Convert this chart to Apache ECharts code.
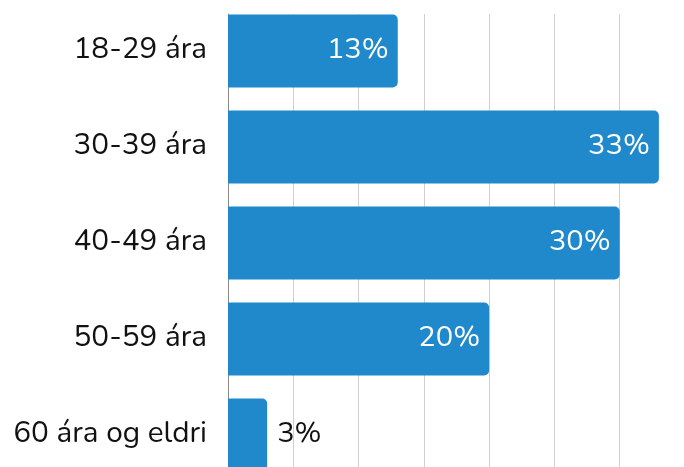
<!DOCTYPE html>
<html>
<head>
<meta charset="utf-8">
<script src="https://cdn.jsdelivr.net/npm/echarts@6/dist/echarts.min.js"></script>
<style>html,body{margin:0;padding:0;background:#fff}#c{width:684px;height:467px}</style>
</head>
<body>
<div id="c"></div>
<script>
const categories = ['18-29 ára', '30-39 ára', '40-49 ára', '50-59 ára', '60 ára og eldri'];
const values = [13, 33, 30, 20, 3];
const insideLabels = [true, true, true, true, false];

const font = 'Nunito, "DejaVu Sans", sans-serif';
const chart = echarts.init(document.getElementById('c'));
chart.setOption({
  animation: false,
  grid: [
    { left: 228, right: -1, top: 3, bottom: -16, outerBoundsMode: 'none' },
    { left: 228, right: -1, top: 14, bottom: -10, outerBoundsMode: 'none' }
  ],
  xAxis: [
    { gridIndex: 0, type: 'value', min: 0, max: 35, interval: 5, show: false },
    { gridIndex: 1, type: 'value', min: 0, max: 35, interval: 5,
      axisLine: { show: false }, axisTick: { show: false }, axisLabel: { show: false },
      splitLine: { show: true, lineStyle: { color: '#d0d0d0', width: 1 } } }
  ],
  yAxis: [
    { gridIndex: 0, type: 'category', data: categories, inverse: true,
      axisLine: { show: false }, axisTick: { show: false },
      axisLabel: { fontFamily: font, fontSize: 29.7, color: '#111', margin: 21 } },
    { gridIndex: 1, type: 'value', min: 0, max: 1,
      axisLine: { show: true, lineStyle: { color: '#888', width: 1 } },
      axisTick: { show: false }, axisLabel: { show: false }, splitLine: { show: false } }
  ],
  series: [{
    type: 'bar',
    xAxisIndex: 0, yAxisIndex: 0,
    barWidth: 73,
    itemStyle: { color: '#2089cc', borderRadius: [0, 5, 5, 0] },
    label: { show: true, position: 'insideRight', distance: 9, formatter: '{c}%',
      fontFamily: font, fontSize: 29, color: '#fff' },
    data: values.map((v, i) => insideLabels[i] ? v : {
      value: v, label: { position: 'right', distance: 10, color: '#111' }
    })
  }]
});
</script>
</body>
</html>
